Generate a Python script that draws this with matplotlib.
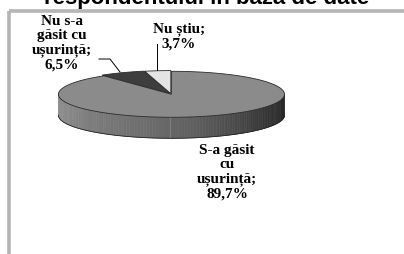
import numpy as np
import matplotlib.pyplot as plt
from matplotlib.patches import Polygon, Rectangle

# date din grafic
categorii = ['Nu știu', 'Nu s-a\ngăsit cu\nușurință', 'S-a găsit\ncu\nușurință']
valori = [3.7, 6.5, 89.7]
culori = ['#e4e4e4', '#3e3e3e', '#8b8b8b']
titlu = 'respondentului în baza de date'

# geometria pie-ului "3D" (in pixeli)
cx, cy = 171, 94
a, b = 113, 23
adancime = 21
explode = [2.0, 2.5, 1.5]


def punct(theta, x0, y0, dz=0):
    """ punct pe elipsa, theta in grade """
    t = np.radians(theta)
    return x0 + a * np.cos(t), y0 - b * np.sin(t) + dz


def culoare_lateral(theta):
    """ umbrire pentru peretele lateral """
    pts = [180, 230, 280, 330, 352, 360]
    gri = [0.58, 0.48, 0.38, 0.20, 0.15, 0.22]
    g = np.interp(theta, pts, gri)
    return (g, g, g)


fig = plt.figure(figsize=(4.04, 2.54), dpi=100)
ax = fig.add_axes([0, 0, 1, 1])
ax.set_xlim(0, 404)
ax.set_ylim(254, 0)
ax.axis('off')

# chenar gri
ax.add_patch(Rectangle((8.5, 10.5), 430, 280, facecolor='none',
                       edgecolor='#b5b5b5', lw=2.6))

# titlu (taiat sus)
ax.text(207, 4.0, titlu, ha='center', va='baseline', fontsize=16,
        fontweight='bold', family='Liberation Sans')

total = sum(valori)
unghiuri = [90]
for v in valori:
    unghiuri.append(unghiuri[-1] + 360 * v / total)

felii = []
for i in range(len(valori)):
    t0, t1 = unghiuri[i], unghiuri[i + 1]
    mij = np.radians((t0 + t1) / 2)
    x0 = cx + explode[i] * np.cos(mij)
    y0 = cy - explode[i] * np.sin(mij) * b / a
    felii.append((t0, t1, x0, y0))

# perete lateral (doar partea din fata, felia mare)
t0, t1, x0, y0 = felii[2]
th = np.linspace(180, 360, 120)
for k in range(len(th) - 1):
    p1 = punct(th[k], x0, y0)
    p2 = punct(th[k + 1], x0, y0)
    p3 = punct(th[k + 1], x0, y0, adancime)
    p4 = punct(th[k], x0, y0, adancime)
    c = culoare_lateral((th[k] + th[k + 1]) / 2)
    ax.add_patch(Polygon([p1, p2, p3, p4], closed=True, facecolor=c,
                         edgecolor=c, lw=0.4))
xb, yb = punct(th, x0, y0, adancime)
ax.plot(xb, yb, color='#222222', lw=0.6)

# fetele de sus
for i, (t0, t1, x0, y0) in enumerate(felii):
    th = np.linspace(t0, t1, 200)
    xs, ys = punct(th, x0, y0)
    pts = [(x0, y0)] + list(zip(xs, ys))
    ax.add_patch(Polygon(pts, closed=True, facecolor=culori[i],
                         edgecolor='#2a2a2a', lw=0.6))

# etichete
font = dict(family='Liberation Serif', fontweight='bold', fontsize=11,
            ha='center', va='center', linespacing=1.13)
pozitii = [(179, 36), (62, 43), (227, 172)]
for i, (x, y) in enumerate(pozitii):
    txt = categorii[i] + ';\n' + ('%.1f' % valori[i]).replace('.', ',') + '%'
    ax.text(x, y, txt, **font)

# linii de legatura
ax.plot([157, 157], [44, 70], color='black', lw=0.7)
ax.plot([99, 110, 120], [59, 59, 72], color='black', lw=0.7)

fig.savefig('out.png', dpi=100)
